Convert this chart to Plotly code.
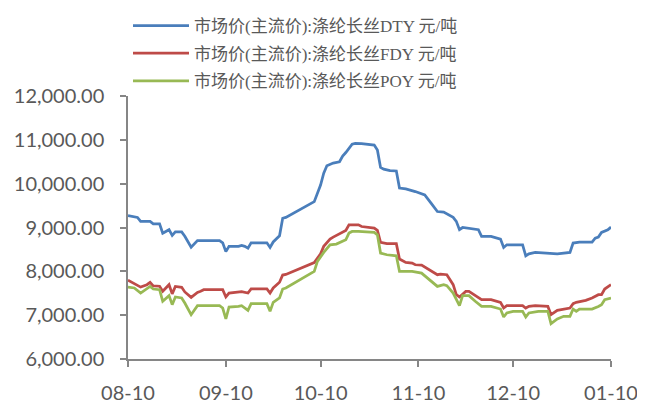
import plotly.graph_objects as go

# ---------------- data ----------------
dty_dates = ["2016-08-10","2016-08-12","2016-08-13","2016-08-14","2016-08-17","2016-08-18","2016-08-20","2016-08-21",
             "2016-08-23","2016-08-24","2016-08-25","2016-08-27","2016-08-28","2016-08-30","2016-09-01","2016-09-08",
             "2016-09-09","2016-09-10","2016-09-11","2016-09-14","2016-09-15","2016-09-16","2016-09-17","2016-09-18",
             "2016-09-23","2016-09-24","2016-09-25","2016-09-27","2016-09-28","2016-09-29","2016-10-08","2016-10-10",
             "2016-10-11","2016-10-12","2016-10-14","2016-10-16","2016-10-17","2016-10-18","2016-10-20","2016-10-21",
             "2016-10-23","2016-10-27","2016-10-28","2016-10-29","2016-10-30","2016-11-01","2016-11-03","2016-11-04",
             "2016-11-06","2016-11-09","2016-11-12","2016-11-14","2016-11-16","2016-11-18","2016-11-21","2016-11-22",
             "2016-11-23","2016-11-24","2016-11-26","2016-11-29","2016-11-30","2016-12-03","2016-12-06","2016-12-07",
             "2016-12-08","2016-12-13","2016-12-14","2016-12-15","2016-12-17","2016-12-22","2016-12-24","2016-12-28",
             "2016-12-29","2016-12-31","2017-01-04","2017-01-05","2017-01-06","2017-01-07","2017-01-09","2017-01-10"]
dty_values = [9270,9250,9230,9140,9140,9085,9085,8870,
              8950,8820,8900,8900,8800,8550,8700,8700,
              8650,8450,8570,8570,8590,8570,8530,8650,
              8650,8545,8670,8810,9210,9230,9590,9970,
              10240,10410,10470,10500,10630,10710,10900,10920,
              10915,10880,10770,10370,10330,10300,10290,9900,
              9880,9820,9745,9555,9365,9350,9230,9140,
              8950,9000,8985,8950,8800,8795,8735,8545,
              8605,8605,8355,8400,8430,8415,8400,8430,
              8645,8667,8667,8757,8780,8887,8947,9010]

fdy_dates = ["2016-08-10","2016-08-12","2016-08-13","2016-08-14","2016-08-16","2016-08-17","2016-08-18","2016-08-20",
             "2016-08-21","2016-08-22","2016-08-23","2016-08-24","2016-08-25","2016-08-27","2016-08-28","2016-08-30",
             "2016-09-01","2016-09-02","2016-09-03","2016-09-09","2016-09-10","2016-09-11","2016-09-14","2016-09-15",
             "2016-09-17","2016-09-18","2016-09-23","2016-09-24","2016-09-25","2016-09-27","2016-09-28","2016-09-29",
             "2016-10-08","2016-10-10","2016-10-11","2016-10-13","2016-10-14","2016-10-16","2016-10-18","2016-10-19",
             "2016-10-22","2016-10-23","2016-10-25","2016-10-27","2016-10-28","2016-10-29","2016-10-31","2016-11-03",
             "2016-11-04","2016-11-06","2016-11-08","2016-11-09","2016-11-11","2016-11-14","2016-11-16","2016-11-17",
             "2016-11-19","2016-11-21","2016-11-22","2016-11-23","2016-11-25","2016-11-26","2016-11-28","2016-11-30",
             "2016-12-03","2016-12-06","2016-12-07","2016-12-08","2016-12-13","2016-12-14","2016-12-15","2016-12-17",
             "2016-12-21","2016-12-22","2016-12-24","2016-12-28","2016-12-29","2016-12-30","2017-01-02","2017-01-04",
             "2017-01-06","2017-01-07","2017-01-08","2017-01-10"]
fdy_values = [7800,7720,7695,7640,7695,7750,7670,7660,
              7545,7620,7695,7485,7655,7635,7530,7405,
              7520,7545,7580,7580,7415,7505,7520,7535,
              7505,7600,7600,7505,7620,7750,7915,7930,
              8200,8400,8570,8735,8780,8857,8933,9060,
              9060,9023,9000,8985,8933,8660,8630,8630,
              8280,8205,8188,8150,8143,8021,7923,7938,
              7923,7695,7467,7415,7543,7543,7445,7353,
              7353,7293,7163,7217,7217,7163,7200,7217,
              7200,7010,7110,7163,7262,7293,7338,7392,
              7467,7467,7597,7695]

poy_dates = ["2016-08-10","2016-08-12","2016-08-14","2016-08-16","2016-08-17","2016-08-18","2016-08-20","2016-08-21",
             "2016-08-23","2016-08-24","2016-08-25","2016-08-27","2016-08-28","2016-08-30","2016-09-01","2016-09-08",
             "2016-09-09","2016-09-10","2016-09-11","2016-09-14","2016-09-15","2016-09-17","2016-09-18","2016-09-23",
             "2016-09-24","2016-09-25","2016-09-27","2016-09-28","2016-09-29","2016-10-08","2016-10-09","2016-10-11",
             "2016-10-13","2016-10-15","2016-10-18","2016-10-19","2016-10-20","2016-10-22","2016-10-27","2016-10-28",
             "2016-10-29","2016-10-31","2016-11-03","2016-11-04","2016-11-08","2016-11-11","2016-11-14","2016-11-16",
             "2016-11-18","2016-11-19","2016-11-21","2016-11-22","2016-11-23","2016-11-24","2016-11-26","2016-11-28",
             "2016-11-30","2016-12-03","2016-12-06","2016-12-07","2016-12-08","2016-12-10","2016-12-13","2016-12-14",
             "2016-12-15","2016-12-18","2016-12-21","2016-12-22","2016-12-24","2016-12-26","2016-12-28","2016-12-29",
             "2016-12-30","2016-12-31","2017-01-04","2017-01-06","2017-01-07","2017-01-08","2017-01-10"]
poy_values = [7640,7620,7505,7620,7657,7597,7582,7316,
              7445,7240,7415,7392,7278,7011,7217,7217,
              7163,6913,7186,7200,7217,7110,7262,7262,
              7087,7293,7392,7597,7620,7998,8226,8431,
              8606,8621,8720,8872,8910,8910,8887,8834,
              8416,8378,8355,7998,7998,7960,7771,7657,
              7695,7672,7505,7369,7217,7445,7445,7316,
              7200,7200,7140,6958,7050,7087,7087,6958,
              7050,7087,7087,6806,6913,6973,6973,7140,
              7087,7140,7140,7200,7240,7353,7392]

series_names = ["市场价(主流价):涤纶长丝DTY 元/吨",
                "市场价(主流价):涤纶长丝FDY 元/吨",
                "市场价(主流价):涤纶长丝POY 元/吨"]
series_colors = ["#4A7EBB", "#BE4B48", "#98B954"]

tick_dates = ["2016-08-10", "2016-09-10", "2016-10-10", "2016-11-10", "2016-12-10", "2017-01-10"]
tick_labels = ["08-10", "09-10", "10-10", "11-10", "12-10", "01-10"]
y_ticks = [6000, 7000, 8000, 9000, 10000, 11000, 12000]

# ---------------- figure ----------------
fig = go.Figure()
for name, xs, ys, col in zip(series_names,
                             [dty_dates, fdy_dates, poy_dates],
                             [dty_values, fdy_values, poy_values],
                             series_colors):
    fig.add_trace(go.Scatter(x=xs, y=ys, mode="lines", name=name, legendgroup=name,
                             line=dict(color=col, width=2.75)))

axis_gray = "#868686"
text_gray = "#595959"
tick_font = dict(family="Lato, Open Sans, sans-serif", size=20, color=text_gray)

# the page places the figure 8px from the top-left corner, so size/margins account for that
fig.update_layout(
    width=637, height=392,
    margin=dict(l=120, r=34, t=88, b=41, autoexpand=False),
    paper_bgcolor="white", plot_bgcolor="white",
    showlegend=True,
    legend=dict(x=0.0, y=1.01, xref="paper", yref="container", xanchor="left", yanchor="top",
                font=dict(family="Liberation Serif, Noto Sans CJK SC", size=17, color=text_gray),
                tracegroupgap=2.5, itemwidth=56, bgcolor="rgba(0,0,0,0)"),
    font=dict(family="Lato, Open Sans, sans-serif", color=text_gray),
)
fig.update_xaxes(
    type="date", range=["2016-08-10", "2017-01-10"],
    tickmode="array", tickvals=tick_dates, ticktext=tick_labels,
    showgrid=False, zeroline=False,
    showline=True, linecolor=axis_gray, linewidth=1.5,
    ticks="outside", ticklen=6, tickcolor=axis_gray, tickwidth=1.5,
    tickfont=tick_font, ticklabelstandoff=9,
)
fig.update_yaxes(
    range=[6000, 12000], tickmode="array", tickvals=y_ticks, tickformat=",.2f",
    showgrid=False, zeroline=False,
    showline=True, linecolor=axis_gray, linewidth=1.5,
    ticks="outside", ticklen=6, tickcolor=axis_gray, tickwidth=1.5,
    tickfont=tick_font, ticklabelstandoff=12,
)

fig.write_html("out.html")
